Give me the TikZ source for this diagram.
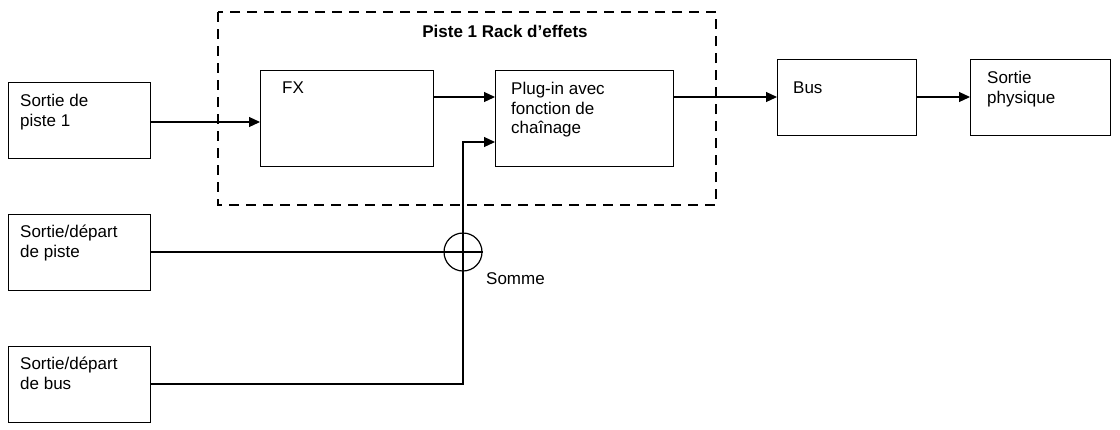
\documentclass[tikz,border=0pt]{standalone}
\usepackage{fontspec}
\setmainfont{Liberation Sans}
\usetikzlibrary{arrows.meta}
\begin{document}
\begin{tikzpicture}[x=1pt,y=-1pt,
  box/.style={draw,line width=1.2pt},
  lbl/.style={anchor=north west,align=left,font=\fontsize{17}{19.5}\selectfont,inner sep=0pt},
  arr/.style={line width=1.2pt,-{Triangle[length=11pt,width=10pt]}},
  ln/.style={line width=1.2pt}]
\useasboundingbox (0,0) rectangle (1120,429);
\draw[ln,dash pattern=on 10pt off 7pt] (218,12) rectangle (716,205);
\node[font=\bfseries\fontsize{17}{19}\selectfont] (title) at (505,31) {Piste 1 Rack d’effets};
\node[box,minimum width=142,minimum height=76,anchor=north west] (s1) at (8,82) {};
\node[lbl] at (20,94) {Sortie de\\piste 1};
\node[box,minimum width=173,minimum height=96,anchor=north west] (fx) at (260,70) {};
\node[lbl] at (282,82) {FX};
\node[box,minimum width=178,minimum height=96,anchor=north west] (pl) at (495,70) {};
\node[lbl] at (511,82) {Plug-in avec\\fonction de\\chaînage};
\node[box,minimum width=139,minimum height=76,anchor=north west] (bus) at (777,59) {};
\node[lbl] at (793,82) {Bus};
\node[box,minimum width=140,minimum height=76,anchor=north west] (sp) at (970,59) {};
\node[lbl] at (987,71) {Sortie\\physique};
\node[box,minimum width=142,minimum height=76,anchor=north west] (sdp) at (8,214) {};
\node[lbl] at (20,225) {Sortie/départ\\de piste};
\node[box,minimum width=142,minimum height=76,anchor=north west] (sdb) at (8,346) {};
\node[lbl] at (20,357) {Sortie/départ\\de bus};
\node[draw,circle,line width=1.2pt,minimum size=38,inner sep=0] (sum) at (463,252) {};
\node[lbl] at (486,272) {Somme};
\draw[arr] (s1.east |- 0,122) -- (fx.west |- 0,122);
\draw[arr] (fx.east |- 0,97) -- (pl.west |- 0,97);
\draw[arr] (pl.east |- 0,97) -- (bus.west |- 0,97);
\draw[arr] (bus.east |- 0,97) -- (sp.west |- 0,97);
\draw[ln] (sdp.east |- 0,252) -- (sum.east);
\draw[ln] (sdb.east |- 0,384) -- (463,384) -- (sum.south);
\draw[ln] (sum.south) -- (sum.north);
\draw[arr] (sum.north) -- (463,142) -- (pl.west |- 0,142);
\end{tikzpicture}
\end{document}
